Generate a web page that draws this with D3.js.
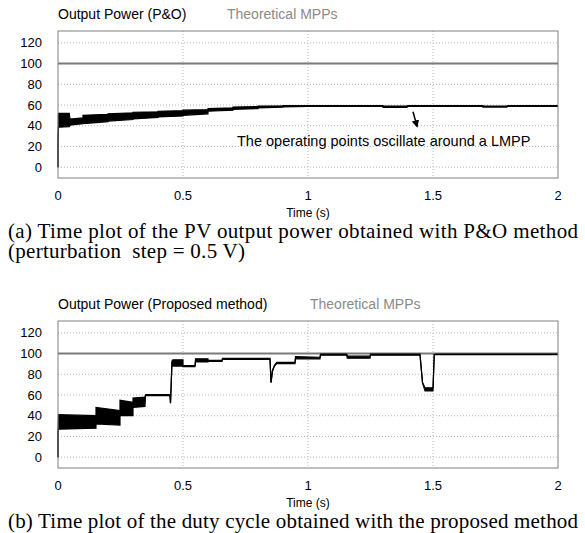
<!DOCTYPE html>
<html>
<head>
<meta charset="utf-8">
<script src="https://cdn.jsdelivr.net/npm/d3@7"></script>
<style>
  body { margin: 0; background: #fff; }
  svg text { font-family: "Liberation Sans", Arial, sans-serif; }
  .caption { font-family: "Liberation Serif", "Times New Roman", serif !important; font-size: 21px; fill: #000; }
</style>
</head>
<body>
<script>
// tick labels
var xTicks = [0, 0.5, 1, 1.5, 2];
var yTicks = [0, 20, 40, 60, 80, 100, 120];
var mppValue = 100;

// (a) P&O output power: time, upper and lower edge of the oscillation band
var pnoTime  = [0, 0, 0.002, 0.045, 0.048, 0.1, 0.1, 0.2, 0.2, 0.3, 0.3, 0.4, 0.4, 0.5, 0.5, 0.6, 0.6, 0.7, 0.7, 0.8, 0.8, 0.9, 0.9, 1.0, 1.3, 1.3, 1.395, 1.4, 1.7, 1.7, 1.795, 1.8, 2.0];
var pnoUpper = [0, 25, 52, 52, 46.5, 47.5, 50, 51, 51.5, 52.5, 53, 53.5, 54, 54.5, 55, 55.5, 56.5, 57.3, 58, 58.5, 59, 59.3, 59.4, 59.5, 59.5, 59, 59, 59.5, 59.5, 59, 59, 59.5, 59.5];
var pnoLower = [0, 25, 38.5, 39, 40.5, 42, 42, 44, 44.5, 46, 46.5, 48, 48.5, 49.5, 50, 51.5, 54, 55, 55.8, 56.5, 57.2, 58, 58.3, 58.6, 58.6, 57.8, 57.8, 58.6, 58.6, 58, 58, 58.6, 58.6];

// (b) proposed method output power
var propTime  = [0, 0, 0.002, 0.152, 0.152, 0.248, 0.248, 0.3, 0.3, 0.348, 0.35, 0.448, 0.45, 0.456, 0.46, 0.5, 0.5, 0.548, 0.55, 0.6, 0.6, 0.656, 0.658, 0.848, 0.852, 0.858, 0.866, 0.875, 0.948, 0.95, 1.048, 1.05, 1.155, 1.157, 1.248, 1.25, 1.448, 1.458, 1.468, 1.5, 1.505, 1.51, 2.0];
var propUpper = [0, 24, 41, 40, 48, 45, 55, 53, 57, 58, 60.3, 60.3, 52, 93, 94, 94, 88.5, 88.5, 95, 95, 93.5, 93.5, 95.5, 95.5, 72, 84, 89, 91.5, 91.5, 97, 96.5, 99.5, 99.5, 97.5, 97.5, 99.5, 99.5, 72, 67, 67, 99, 99.5, 99.5];
var propLower = [0, 24, 27, 28, 32, 31, 40, 40, 48, 49, 59.5, 59.5, 52, 92, 88, 88, 87.5, 87.5, 92, 92, 92.5, 92.5, 94.5, 94.5, 72, 83, 88, 90.3, 90.3, 95, 95, 98.5, 98.5, 95.5, 95.5, 98.5, 98.5, 72, 64, 64, 99, 99, 99];

var panelA = { top: 0, legend: "Output Power (P&O)", mppX: 227, time: pnoTime, upper: pnoUpper, lower: pnoLower,
  caption: ["(a) Time plot of the PV output power obtained with P&O method", "(perturbation  step = 0.5 V)"],
  captionWidth: [570, 237] };
var panelB = { top: 290, legend: "Output Power (Proposed method)", mppX: 310, time: propTime, upper: propUpper, lower: propLower,
  caption: ["(b) Time plot of the duty cycle obtained with the proposed method"],
  captionWidth: [570] };

var W = 585, H = 533;
var margin = { left: 58, right: 27, top: 31, plotH: 147 };

var svg = d3.select("body").append("svg")
  .attr("width", W)
  .attr("height", H);

svg.append("defs").append("marker")
  .attr("id", "arrowhead")
  .attr("viewBox", "0 0 10 10")
  .attr("refX", 8).attr("refY", 5)
  .attr("markerWidth", 5).attr("markerHeight", 5)
  .attr("orient", "auto")
  .append("path")
  .attr("d", "M0,0 L10,5 L0,10 z")
  .attr("fill", "#000");

function drawPanel(p) {
  var g = svg.append("g").attr("transform", "translate(0," + p.top + ")");

  var x = d3.scaleLinear().domain([0, 2]).range([margin.left, W - margin.right]);
  var y = d3.scaleLinear().domain([-10.5, 131.5]).range([margin.top + margin.plotH, margin.top]);

  // grid lines
  g.append("g").selectAll("line.hy")
    .data(yTicks)
    .enter().append("line")
      .attr("x1", x(0)).attr("x2", x(2))
      .attr("y1", function(d) { return y(d); })
      .attr("y2", function(d) { return y(d); })
      .attr("stroke", "#b5b5b5")
      .attr("stroke-dasharray", "1,2");
  g.append("g").selectAll("line.vx")
    .data(xTicks.slice(1, -1))
    .enter().append("line")
      .attr("y1", y(131.5)).attr("y2", y(-10.5))
      .attr("x1", function(d) { return x(d); })
      .attr("x2", function(d) { return x(d); })
      .attr("stroke", "#b5b5b5")
      .attr("stroke-dasharray", "1,2");

  // theoretical MPP line
  g.append("line")
    .attr("x1", x(0)).attr("x2", x(2))
    .attr("y1", y(mppValue)).attr("y2", y(mppValue))
    .attr("stroke", "#7a7a7a")
    .attr("stroke-width", 2);

  // output power band
  var pts = p.time.map(function(t, i) { return { t: t, hi: p.upper[i], lo: p.lower[i] }; });
  g.append("path")
    .datum(pts)
    .attr("fill", "#000")
    .attr("d", d3.area()
      .x(function(d) { return x(d.t); })
      .y0(function(d) { return y(d.lo); })
      .y1(function(d) { return y(d.hi); }));
  ["hi", "lo"].forEach(function(k) {
    g.append("path")
      .datum(pts)
      .attr("fill", "none")
      .attr("stroke", "#000")
      .attr("stroke-width", 1.2)
      .attr("d", d3.line()
        .x(function(d) { return x(d.t); })
        .y(function(d) { return y(d[k]); }));
  });

  // frame
  g.append("rect")
    .attr("x", x(0)).attr("y", y(131.5))
    .attr("width", x(2) - x(0))
    .attr("height", y(-10.5) - y(131.5))
    .attr("fill", "none")
    .attr("stroke", "#808080");

  // y labels
  g.append("g").selectAll("text")
    .data(yTicks)
    .enter().append("text")
      .attr("x", 42)
      .attr("y", function(d) { return y(d) + 4.5; })
      .attr("text-anchor", "end")
      .style("font-size", "13px")
      .text(function(d) { return d; });

  // x labels
  g.append("g").selectAll("text")
    .data(xTicks)
    .enter().append("text")
      .attr("x", function(d) { return x(d); })
      .attr("y", 200)
      .attr("text-anchor", "middle")
      .style("font-size", "13px")
      .text(function(d) { return d; });

  g.append("text")
    .attr("x", x(1))
    .attr("y", 217)
    .attr("text-anchor", "middle")
    .style("font-size", "12px")
    .text("Time (s)");

  // legend
  g.append("text")
    .attr("x", margin.left).attr("y", 19)
    .style("font-size", "14px")
    .text(p.legend);
  g.append("text")
    .attr("x", p.mppX).attr("y", 19)
    .style("font-size", "14px")
    .attr("fill", "#8a8a8a")
    .text("Theoretical MPPs");

  // caption
  g.append("g").selectAll("text")
    .data(p.caption)
    .enter().append("text")
      .attr("class", "caption")
      .attr("x", 8)
      .attr("y", function(d, i) { return 238 + i * 20; })
      .attr("textLength", function(d, i) { return p.captionWidth[i]; })
      .attr("lengthAdjust", "spacing")
      .style("white-space", "pre")
      .text(function(d) { return d; });

  return { g: g, x: x, y: y };
}

var a = drawPanel(panelA);
drawPanel(panelB);

// annotation on panel (a)
a.g.append("text")
  .attr("x", 237).attr("y", 146)
  .style("font-size", "14.5px")
  .text("The operating points oscillate around a LMPP");
a.g.append("line")
  .attr("x1", a.x(1.42)).attr("y1", a.y(53.5))
  .attr("x2", a.x(1.436)).attr("y2", a.y(39.5))
  .attr("stroke", "#000")
  .attr("stroke-width", 1.5)
  .attr("marker-end", "url(#arrowhead)");
</script>
</body>
</html>
